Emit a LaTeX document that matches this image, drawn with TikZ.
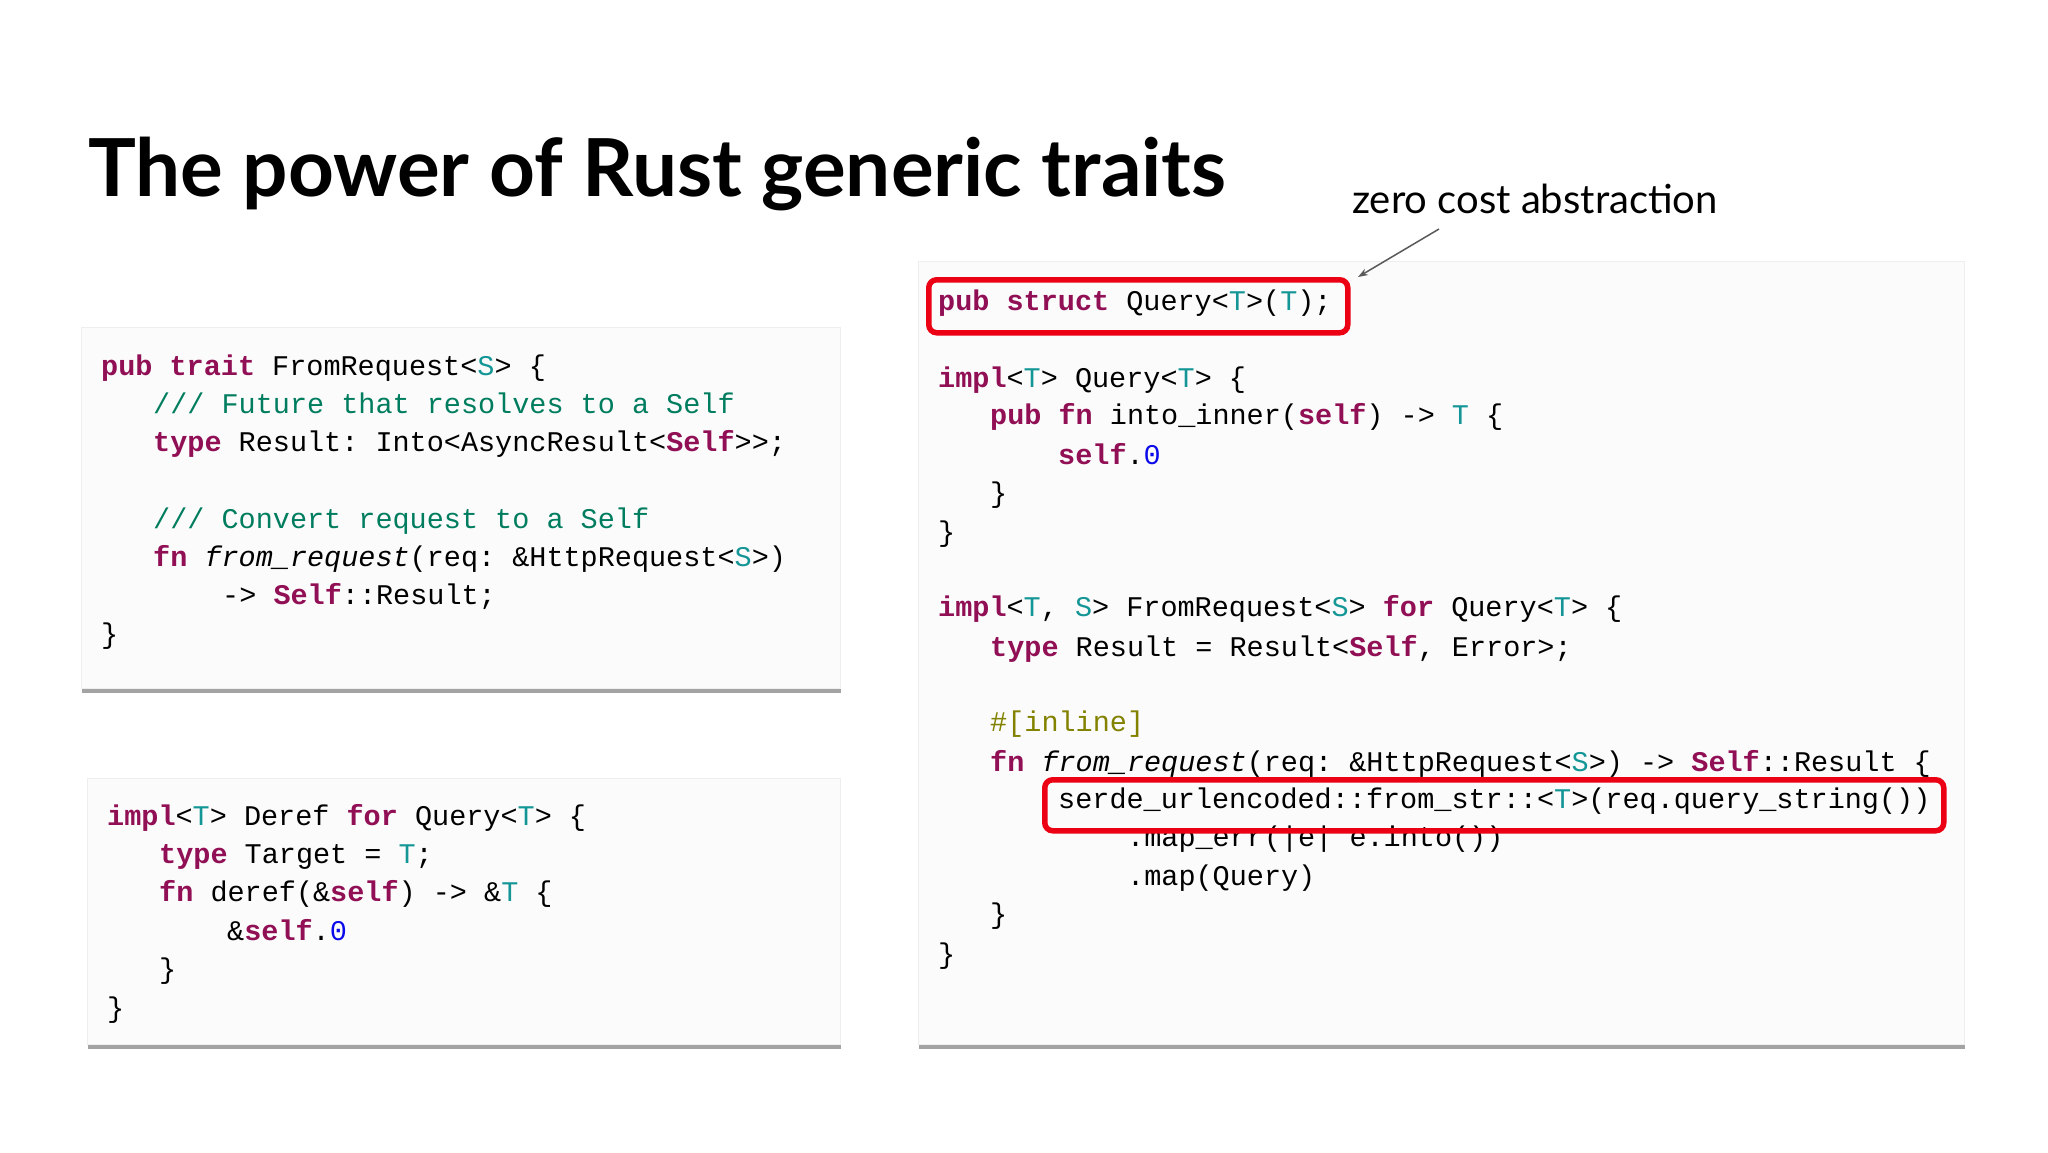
\documentclass[tikz,border=0pt]{standalone}
\usepackage{fontspec}
\setmainfont{Lato}
\setmonofont{Liberation Mono}
\usetikzlibrary{shadows,arrows.meta}
\definecolor{kw}{RGB}{145,15,85}
\definecolor{tp}{RGB}{20,150,150}
\definecolor{cm}{RGB}{0,125,95}
\definecolor{nm}{RGB}{10,10,235}
\definecolor{at}{RGB}{130,130,0}
\definecolor{hl}{RGB}{235,0,20}
\newcommand{\K}[1]{\textcolor{kw}{\textbf{#1}}}
\newcommand{\Tp}[1]{\textcolor{tp}{#1}}
\newcommand{\Cm}[1]{\textcolor{cm}{#1}}
\newcommand{\Nm}[1]{\textcolor{nm}{#1}}
\tikzset{
  panel/.style={fill={rgb,255:red,251;green,251;blue,251},draw={rgb,255:red,238;green,238;blue,238},line width=0.5pt,
    drop shadow={shadow xshift=1pt,shadow yshift=-5pt,fill=black!60,opacity=0.6}},
  code/.style={anchor=base west,inner sep=0pt,font=\ttfamily\fontsize{28.5}{34}\selectfont},
  redbox/.style={draw=hl,line width=5.5pt,rounded corners=8pt},
}
\begin{document}
\begin{tikzpicture}[x=1pt,y=-1pt]
\useasboundingbox[fill=white] (0,0) rectangle (2048,1152);
\node[anchor=base west,inner sep=0pt,font=\bfseries\fontsize{80}{84}\selectfont] (title) at (88,196) {The power of Rust generic traits};
\node[anchor=base west,inner sep=0pt,font=\fontsize{40}{44}\selectfont] (zc) at (1352,213) {zero cost abstraction};
% panels
\path[panel] (81,327) rectangle (840,688);
\path[panel] (87,778) rectangle (840,1044);
\path[panel] (918,261) rectangle (1964,1044);
% box 1
\node[code] (a1) at (101,375) {\K{pub} \K{trait} FromRequest<\Tp{S}> \{};
\node[code] (a2) at (153,413) {\Cm{/// Future that resolves to a Self}};
\node[code] (a3) at (153,451) {\K{type} Result: Into<AsyncResult<\K{Self}>>;};
\node[code] (a4) at (153,528) {\Cm{/// Convert request to a Self}};
\node[code] (a5) at (153,566) {\K{fn} \textit{from\_request}(req: \&HttpRequest<\Tp{S}>)};
\node[code] (a6) at (222,604) {-> \K{Self}::Result;};
\node[code] (a7) at (101,643) {\}};
% box 2
\node[code] (b1) at (107,825) {\K{impl}<\Tp{T}> Deref \K{for} Query<\Tp{T}> \{};
\node[code] (b2) at (159,863) {\K{type} Target = \Tp{T};};
\node[code] (b3) at (159,901) {\K{fn} deref(\&\K{self}) -> \&\Tp{T} \{};
\node[code] (b4) at (227,940) {\&\K{self}.\Nm{0}};
\node[code] (b5) at (159,978) {\}};
\node[code] (b6) at (107,1017) {\}};
% box 3
\node[code] (c1) at (938,310) {\K{pub} \K{struct} Query<\Tp{T}>(\Tp{T});};
\node[code] (c2) at (938,387) {\K{impl}<\Tp{T}> Query<\Tp{T}> \{};
\node[code] (c3) at (990,424) {\K{pub} \K{fn} into\_inner(\K{self}) -> \Tp{T} \{};
\node[code] (c4) at (1058,464) {\K{self}.\Nm{0}};
\node[code] (c5) at (990,502) {\}};
\node[code] (c6) at (938,541) {\}};
\node[code] (c7) at (938,616) {\K{impl}<\Tp{T}, \Tp{S}> FromRequest<\Tp{S}> \K{for} Query<\Tp{T}> \{};
\node[code] (c8) at (990,656) {\K{type} Result = Result<\K{Self}, Error>;};
\node[code] (c9) at (990,731) {\textcolor{at}{\#[inline]}};
\node[code] (c10) at (990,771) {\K{fn} \textit{from\_request}(req: \&HttpRequest<\Tp{S}>) -> \K{Self}::Result \{};
\node[code] (c11) at (1058,808) {serde\_urlencoded::from\_str::<\Tp{T}>(req.query\_string())};
\node[code] (c12) at (1127,846) {.map\_err(|e| e.into())};
\node[code] (c13) at (1127,885) {.map(Query)};
\node[code] (c14) at (990,923) {\}};
\node[code] (c15) at (938,963) {\}};
% highlight boxes
\node[redbox,minimum width=419pt,minimum height=53pt,anchor=north west] (r1) at (926,277) {};
\node[redbox,minimum width=899pt,minimum height=51pt,anchor=north west] (r2) at (1042,777) {};
\coordinate (zs) at (1439,229);
\coordinate (ze) at (1358,277);
\draw[-{Stealth[length=10pt,width=7pt]},gray!70!black,line width=1.5pt] (zs) -- (ze);
\end{tikzpicture}
\end{document}
